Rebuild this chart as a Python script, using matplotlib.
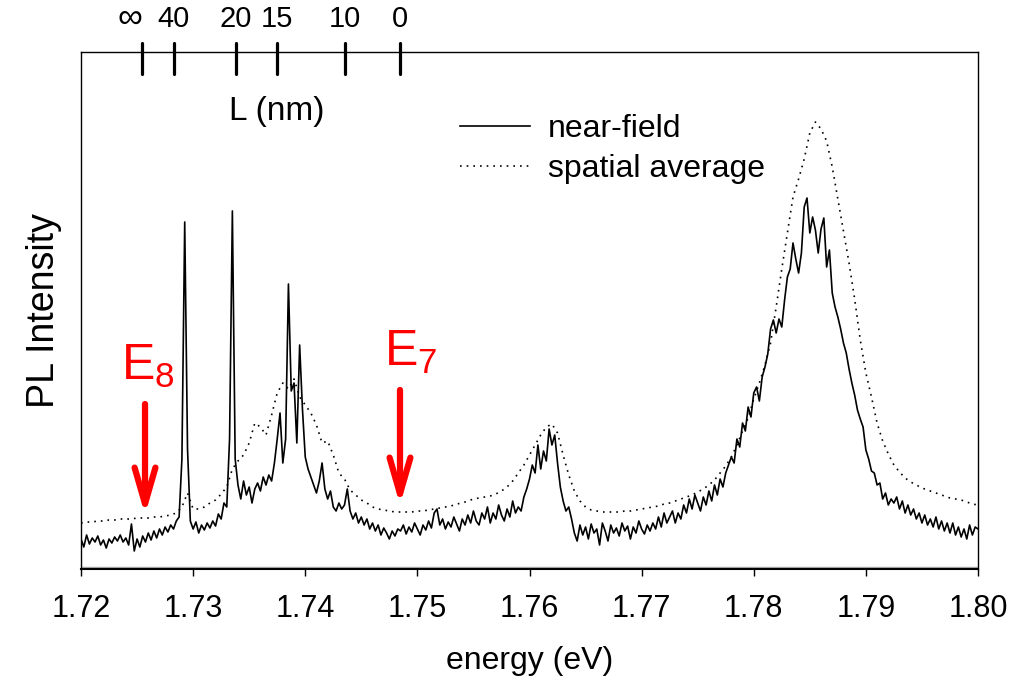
import numpy as np
import matplotlib
matplotlib.use("Agg")
import matplotlib.pyplot as plt
from matplotlib.ticker import FormatStrFormatter

plt.rcParams['font.family'] = ['Liberation Sans', 'DejaVu Sans']
plt.rcParams['mathtext.fontset'] = 'custom'
plt.rcParams['mathtext.rm'] = 'Liberation Sans'

# near-field spectrum, PL intensity (arb. units) on an even grid 1.72 .. 1.80 eV
near_field = [
    30, 22, 34, 25, 31, 27, 33, 24, 29, 21,
    30, 26, 32, 28, 34, 27, 31, 24, 45, 18,
    30, 22, 33, 27, 36, 29, 38, 31, 40, 34,
    42, 37, 44, 40, 48, 52, 110, 347, 120, 48,
    40, 47, 36, 44, 39, 46, 41, 48, 43, 55,
    50, 66, 62, 130, 358, 110, 84, 70, 88, 74,
    82, 66, 80, 86, 78, 92, 84, 94, 88, 106,
    130, 156, 106, 130, 285, 178, 186, 126, 224, 160,
    112, 100, 92, 84, 76, 88, 106, 80, 70, 78,
    62, 58, 66, 60, 64, 80, 58, 50, 56, 46,
    52, 44, 50, 40, 46, 38, 44, 34, 41, 36,
    30, 38, 33, 40, 38, 44, 35, 42, 37, 46,
    40, 34, 44, 39, 48, 41, 56, 60, 44, 50,
    40, 47, 42, 52, 45, 38, 50, 44, 54, 46,
    58, 48, 44, 56, 50, 62, 46, 56, 50, 64,
    54, 48, 60, 52, 68, 56, 62, 58, 72, 80,
    90, 104, 96, 124, 100, 118, 108, 140, 124, 134,
    106, 82, 68, 58, 62, 50, 36, 28, 44, 34,
    42, 30, 45, 36, 40, 24, 46, 38, 28, 44,
    36, 41, 33, 46, 38, 43, 30, 42, 36, 48,
    40, 35, 44, 38, 46, 40, 52, 42, 56, 46,
    52, 58, 46, 56, 50, 64, 56, 70, 60, 74,
    66, 58, 72, 64, 78, 68, 84, 74, 90, 82,
    96, 104, 112, 106, 130, 122, 146, 138, 162, 152,
    176, 182, 168, 192, 202, 215, 240, 249, 236, 250,
    242, 269, 292, 300, 326, 310, 296, 316, 362, 371,
    336, 352, 339, 316, 340, 351, 302, 319, 276, 262,
    252, 240, 226, 216, 200, 186, 174, 159, 150, 142,
    119, 110, 98, 96, 84, 86, 70, 76, 64, 70,
    66, 72, 60, 68, 56, 64, 54, 60, 50, 56,
    46, 54, 44, 50, 42, 52, 40, 48, 38, 46,
    36, 46, 34, 42, 32, 40, 30, 44, 34, 42,
    40,
]

# spatially averaged spectrum, coarser even grid 1.72 .. 1.80 eV
spatial_avg = [
    46, 47, 47, 48, 48, 49, 49, 50, 50, 50,
    51, 51, 51, 52, 52, 53, 54, 56, 62, 76,
    60, 60, 62, 66, 69, 75, 82, 100, 108, 114,
    126, 146, 142, 134, 154, 176, 186, 180, 190, 172,
    164, 156, 144, 126, 128, 114, 96, 90, 79, 74,
    69, 66, 62, 60, 59, 58, 57, 57, 57, 57,
    58, 58, 59, 60, 61, 62, 63, 65, 66, 68,
    70, 71, 72, 73, 75, 78, 82, 88, 96, 104,
    114, 124, 134, 142, 145, 136, 114, 94, 78, 68,
    62, 59, 58, 57, 57, 57, 57, 58, 58, 59,
    60, 61, 62, 63, 65, 66, 68, 70, 72, 74,
    77, 80, 84, 89, 96, 103, 112, 124, 138, 151,
    170, 186, 204, 226, 262, 300, 336, 372, 390, 410,
    436, 447, 440, 428, 402, 370, 338, 306, 270, 229,
    196, 172, 146, 128, 115, 104, 97, 91, 87, 84,
    81, 79, 77, 75, 73, 71, 70, 69, 67, 65,
    64,
]

# top scale: well width L and its energy position
L_energy = [1.72547, 1.72827, 1.73380, 1.73745, 1.74355, 1.74845]
L_labels = ['\u221e', '40', '20', '15', '10', '0']

x_ticks = [1.72, 1.73, 1.74, 1.75, 1.76, 1.77, 1.78, 1.79, 1.80]

# red arrows: label, energy, tail and tip intensity
arrow_labels = [r'E$_\mathrm{8}$', r'E$_\mathrm{7}$']
arrow_energy = [1.72571, 1.74845]
arrow_tail = [165, 179]
arrow_tip = [54, 64]

nf_energy = np.linspace(1.72, 1.80, len(near_field))
sa_energy = np.linspace(1.72, 1.80, len(spatial_avg))

fig = plt.figure(figsize=(10.13, 6.89), dpi=100)
ax = fig.add_axes([81 / 1013, 120 / 689, 897 / 1013, 517 / 689])

ax.plot(nf_energy, near_field, color='black', lw=1.2, label='near-field')
ax.plot(sa_energy, spatial_avg, color='black', lw=1.2,
        linestyle=(0, (1, 3)), label='spatial average')

ax.set_xlim(1.72, 1.80)
ax.set_ylim(0, 517)
ax.set_yticks([])
ax.set_xticks(x_ticks)
ax.xaxis.set_major_formatter(FormatStrFormatter('%.2f'))
ax.tick_params(axis='x', direction='out', length=5, width=1, labelsize=22, pad=13)
for s in ax.spines.values():
    s.set_linewidth(1)
ax.spines['bottom'].set_linewidth(1.5)
ax.axhline(2, color='#aaaaaa', lw=1)

ax.set_xlabel('energy (eV)', fontsize=23, labelpad=16)
ax.set_ylabel('PL Intensity', fontsize=27, labelpad=14)

# L scale on top
ax.vlines(L_energy, 1 - 22 / 517, 1 + 9 / 517, transform=ax.get_xaxis_transform(),
          color='black', lw=2.3, capstyle='round', clip_on=False)
for e, lab in zip(L_energy, L_labels):
    if lab == '\u221e':
        dx, size = -9, 25
    else:
        dx, size = 0, 21
    ax.annotate(lab, xy=(e, 1), xycoords=('data', 'axes fraction'),
                xytext=(dx, 24), textcoords='offset points',
                ha='center', va='center', fontsize=size)
ax.text(0.2185, 0.885, 'L (nm)', transform=ax.transAxes,
        ha='center', va='center', fontsize=24)

# arrows with labels (label offset right of the arrow, in pixels)
label_dx = [3, 11]
for lab, e, y0, y1, dx in zip(arrow_labels, arrow_energy, arrow_tail, arrow_tip, label_dx):
    ax.annotate('', xy=(e, y1), xytext=(e, y0),
                arrowprops=dict(arrowstyle='->, head_length=2.6, head_width=0.75',
                                color='red', lw=4.5, mutation_scale=10,
                                shrinkA=0, shrinkB=0, capstyle='round'))
    ax.annotate(lab, xy=(e, y0 + 24), xytext=(dx * 0.72, 0),
                textcoords='offset points', color='red', fontsize=36,
                ha='center', va='baseline')

ax.legend(loc='center left', bbox_to_anchor=(0.4225, 0.812), frameon=False,
          fontsize=23, handlelength=2.2, handletextpad=0.55, labelspacing=0.3,
          borderpad=0, borderaxespad=0)

fig.savefig('out.png', dpi=100)
